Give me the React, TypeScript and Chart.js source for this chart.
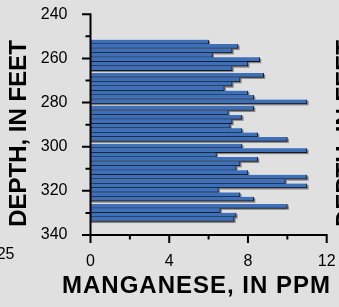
import React, { useEffect, useRef } from 'react';
import { Chart, registerables } from 'chart.js';

Chart.register(...registerables);

// Sample mid-depths (feet) and manganese concentrations (ppm)
const depthFeet = [
  252.5, 254.5, 256.5, 258.5, 260.5, 262.5, 264.5,
  267.6, 269.6, 271.6, 273.6, 275.6, 277.6, 279.6,
  282.6, 284.6, 286.6, 288.6, 290.6, 292.6, 294.6, 296.6,
  299.7, 301.7, 303.7, 305.7, 307.7, 309.7, 311.7, 313.7, 315.7, 317.7, 319.7, 321.7, 323.7,
  326.9, 328.9, 330.9, 332.9,
];
const manganesePpm = [
  6.0, 7.5, 7.2, 6.2, 8.6, 8.0, 7.2,
  8.8, 7.6, 7.2, 6.8, 8.0, 8.3, 11.0,
  8.3, 7.0, 7.7, 7.2, 7.1, 7.7, 8.5, 10.0,
  7.7, 11.0, 6.4, 8.5, 7.6, 7.4, 8.0, 11.0, 9.9, 11.0, 6.5, 7.6, 8.3,
  10.0, 6.6, 7.4, 7.3,
];

const depthMin = 240;
const depthMax = 340;
const depthTickStep = 10;
const depthLabelStep = 20;
const mnMin = 0;
const mnMax = 12;
const mnTickStep = 2;
const mnLabelStep = 4;

const yAxisTitle = 'DEPTH, IN FEET';
const xAxisTitle = 'MANGANESE, IN PPM';
const neighbourTickLabel = '25';

const FONT = "'Liberation Sans', Arial, Helvetica, sans-serif";

const shadowPlugin = {
  id: 'barShadow',
  beforeDatasetsDraw(chart: any) {
    const { ctx } = chart;
    const meta = chart.getDatasetMeta(0);
    ctx.save();
    ctx.fillStyle = 'rgba(95,95,95,0.7)';
    meta.data.forEach((el: any) => {
      const p = el.getProps(['x', 'y', 'base', 'height'], true);
      ctx.fillRect(p.base, p.y - p.height / 2 + 1.5, p.x - p.base + 1.5, p.height);
    });
    ctx.restore();
  },
};

const axesPlugin = {
  id: 'axesLines',
  afterDatasetsDraw(chart: any) {
    const { ctx, chartArea, scales } = chart;
    const xs = scales.x;
    const ys = scales.y;
    const ax = chartArea.left;
    const ay = chartArea.bottom;
    ctx.save();
    ctx.strokeStyle = '#000';
    ctx.lineWidth = 2;
    ctx.beginPath();
    ctx.moveTo(ax, chartArea.top - 1);
    ctx.lineTo(ax, ay + 1);
    ctx.moveTo(ax - 1, ay);
    ctx.lineTo(chartArea.right + 1, ay);
    ys.ticks.forEach((t: any) => {
      const p = ys.getPixelForValue(t.value);
      const len = t.value % depthLabelStep === 0 ? 8.5 : 5;
      ctx.moveTo(ax, p);
      ctx.lineTo(ax - len, p);
    });
    xs.ticks.forEach((t: any) => {
      const p = xs.getPixelForValue(t.value);
      const len = t.value % mnLabelStep === 0 ? 8 : 4.5;
      ctx.moveTo(p, ay);
      ctx.lineTo(p, ay + len);
    });
    ctx.stroke();
    ctx.restore();
  },
};

const titlesPlugin = {
  id: 'axisTitles',
  afterDraw(chart: any) {
    const { ctx } = chart;
    ctx.save();
    ctx.fillStyle = '#000';
    ctx.textAlign = 'center';
    ctx.textBaseline = 'middle';
    ctx.font = `bold 24px ${FONT}`;
    ctx.save();
    ctx.translate(19.5, 133.5);
    ctx.rotate(-Math.PI / 2);
    ctx.fillText(yAxisTitle, 0, 0);
    ctx.restore();
    ctx.save();
    ctx.translate(346.5, 133.5);
    ctx.rotate(-Math.PI / 2);
    ctx.fillText(yAxisTitle, 0, 0);
    ctx.restore();
    (ctx as any).letterSpacing = '1px';
    ctx.fillText(xAxisTitle, 196.5, 286.5);
    (ctx as any).letterSpacing = '0px';
    ctx.font = `16px ${FONT}`;
    ctx.textAlign = 'right';
    ctx.fillText(neighbourTickLabel, 14.5, 254.5);
    ctx.restore();
  },
};

export default function App() {
  const ref = useRef<HTMLCanvasElement | null>(null);

  useEffect(() => {
    if (!ref.current) return;
    const chart = new Chart(ref.current, {
      type: 'bar',
      data: {
        datasets: [
          {
            data: depthFeet.map((d, i) => ({ x: manganesePpm[i], y: d })),
            backgroundColor: '#3e6fb9',
            borderColor: '#14161c',
            borderWidth: { top: 0, right: 1, bottom: 1, left: 0 },
            borderSkipped: false,
            categoryPercentage: 1,
            barPercentage: 1,
          } as any,
        ],
      },
      options: {
        indexAxis: 'y',
        animation: false,
        responsive: true,
        maintainAspectRatio: false,
        layout: { padding: { top: 14.3, right: 12.3, bottom: 0, left: 0 } },
        plugins: { legend: { display: false }, tooltip: { enabled: false } },
        scales: {
          x: {
            type: 'linear',
            position: 'bottom',
            min: mnMin,
            max: mnMax,
            offset: false,
            grid: { display: false },
            border: { display: false },
            ticks: {
              stepSize: mnTickStep,
              autoSkip: false,
              maxRotation: 0,
              padding: 9,
              color: '#000',
              font: { family: FONT, size: 16 },
              callback: (v: any) => (Number(v) % mnLabelStep === 0 ? String(v) : ''),
            },
            afterFit: (s: any) => {
              s.height = 72;
              s.paddingLeft = 0;
              s.paddingRight = 0;
            },
          },
          y: {
            type: 'linear',
            reverse: true,
            min: depthMin,
            max: depthMax,
            offset: false,
            grid: { display: false, offset: false },
            border: { display: false },
            ticks: {
              stepSize: depthTickStep,
              autoSkip: false,
              padding: 15,
              color: '#000',
              font: { family: FONT, size: 16 },
              callback: (v: any) => (Number(v) % depthLabelStep === 0 ? String(v) : ''),
            },
            afterFit: (s: any) => {
              s.width = 90.5;
              s.paddingTop = 0;
              s.paddingBottom = 0;
            },
          },
        },
      } as any,
      plugins: [shadowPlugin, axesPlugin, titlesPlugin],
    });
    return () => chart.destroy();
  }, []);

  return (
    <div
      style={{
        position: 'fixed',
        left: 0,
        top: 0,
        width: 339,
        height: 307,
        background: '#e0e0e0',
        overflow: 'hidden',
      }}
    >
      <canvas ref={ref} />
    </div>
  );
}
